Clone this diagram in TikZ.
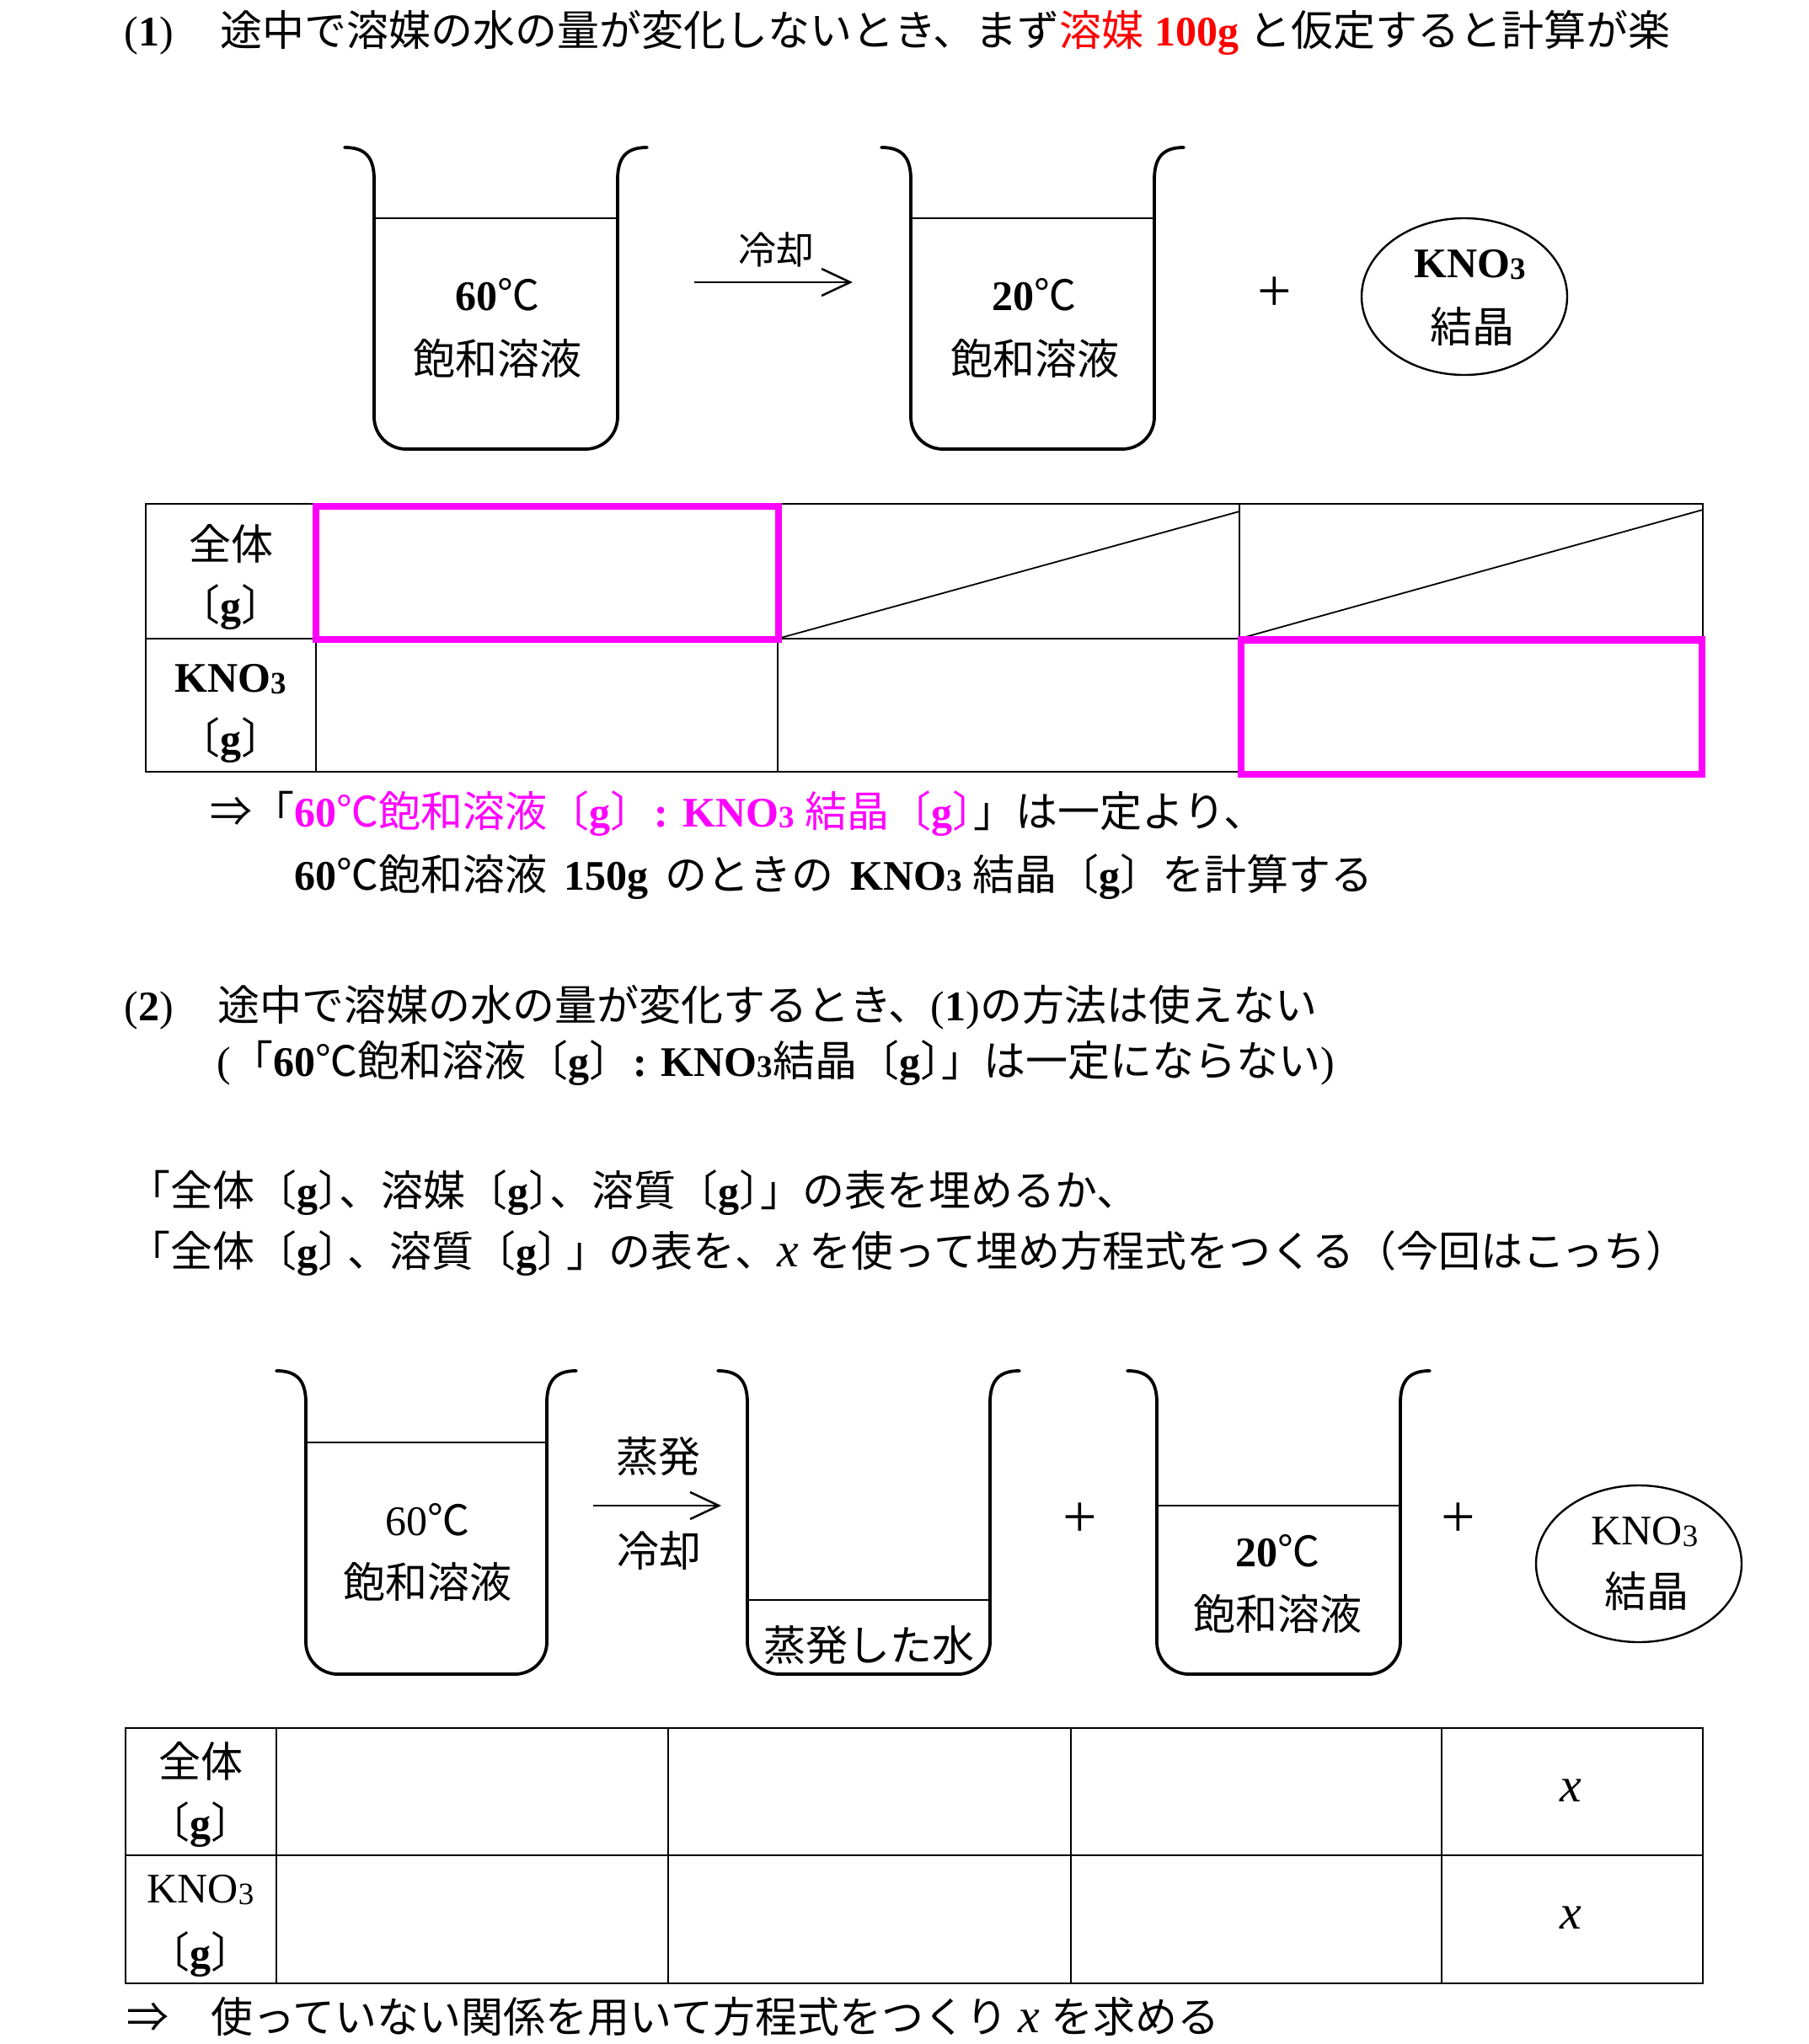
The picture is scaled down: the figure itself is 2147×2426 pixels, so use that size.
\documentclass[tikz,border=0pt]{standalone}
\usepackage{fontspec}
\setmainfont{Liberation Serif}
\newfontfamily\jpfont{Noto Sans CJK JP}
\usetikzlibrary{arrows.meta,shapes.geometric}
\definecolor{hlmag}{RGB}{255,0,255}
\definecolor{hlred}{RGB}{255,0,0}
% automatic switch to the Japanese font for CJK characters
\XeTeXinterchartokenstate=1
\ifdefined\newXeTeXintercharclass
  \newXeTeXintercharclass\CJKcls
\else
  \chardef\CJKcls=7
\fi
\newcount\cjkcnt
\cjkcnt="20
\loop
  \XeTeXcharclass\cjkcnt=0
  \advance\cjkcnt by 1\relax
\ifnum\cjkcnt<"250 \repeat
\cjkcnt="3000
\loop
  \XeTeXcharclass\cjkcnt=\CJKcls
  \advance\cjkcnt by 1\relax
\ifnum\cjkcnt<"A000 \repeat
\cjkcnt="FF00
\loop
  \XeTeXcharclass\cjkcnt=\CJKcls
  \advance\cjkcnt by 1\relax
\ifnum\cjkcnt<"FFF0 \repeat
\XeTeXcharclass"2103=\CJKcls
\XeTeXcharclass"21D2=\CJKcls
\XeTeXinterchartoks 0 \CJKcls = {\jpfont}
\XeTeXinterchartoks 4095 \CJKcls = {\jpfont}
\XeTeXinterchartoks \CJKcls 0 = {\rmfamily}
\XeTeXinterchartoks \CJKcls 4095 = {\rmfamily}

\newcommand\subthree{\raisebox{-0.8pt}{\fontsize{18.5}{18.5}\selectfont 3}}
\newcommand\xvar{{\fontsize{29}{30}\selectfont\textit{x}}}
\newcommand\drawbeaker[4]{%
  \draw[beakerline] ({#1-35},#3) .. controls ({#1-12},#3) and (#1,{#3+10}) .. (#1,{#3+38})
    -- (#1,{#4-38}) arc[start angle=180,end angle=90,radius=38]
    -- ({#2-38},#4) arc[start angle=90,end angle=0,radius=38]
    -- (#2,{#3+38}) .. controls (#2,{#3+10}) and ({#2+12},#3) .. ({#2+35},#3);}

\tikzset{
  every node/.style={font=\fontsize{25}{30}\selectfont},
  txt/.style={inner sep=0pt, anchor=base west},
  lab/.style={inner sep=0pt, anchor=center},
  small/.style={font=\fontsize{22.5}{27}\selectfont},
  plus/.style={inner sep=0pt, anchor=center, font=\fontsize{36}{36}\selectfont},
  beakerline/.style={line width=1.9pt, line cap=round, line join=round},
  liquid/.style={line width=1.2pt},
  tbl/.style={line width=0.9pt},
  tblb/.style={line width=1.1pt},
  hl/.style={draw=hlmag, line width=4.2pt},
  flowarrow/.style={line width=1.25pt, -{Straight Barb[length=17pt,width=16pt]}},
  crystal/.style={draw, ellipse, line width=1.2pt, minimum width=122pt, minimum height=93pt, inner sep=0pt},
}

\begin{document}
\begin{tikzpicture}[x=0.5pt,y=-0.5pt]
\path[use as bounding box] (0,0) rectangle (2147,2426);

% ---------------- Part (1) ----------------
\node[txt] (h1num) at (147,54) {(\textbf{1})};
\node[txt] (h1) at (261,54) {途中で溶媒の水の量が変化しないとき、まず{\color{hlred}溶媒 \textbf{100g}} と仮定すると計算が楽};

\drawbeaker{444}{733}{175}{533}
\draw[liquid] (444,259) -- (733,259);
\node[lab] (b1t) at (590,350) {\textbf{60}℃};
\node[lab] (b1s) at (590,425) {飽和溶液};

\coordinate (a1s) at (824,335);
\coordinate (a1e) at (1012,335);
\draw[flowarrow] (a1s) -- (a1e);
\node[lab, small] (a1l) at (921,296) {冷却};

\drawbeaker{1081}{1370}{175}{533}
\draw[liquid] (1081,259) -- (1370,259);
\node[lab] (b2t) at (1227,350) {\textbf{20}℃};
\node[lab] (b2s) at (1228,425) {飽和溶液};

\node[plus] (p1) at (1513,349) {+};
\node[crystal] (e1) at (1738,352) {};
\node[lab] (e1a) at (1745,314) {\textbf{KNO\subthree}};
\node[lab] (e1b) at (1747,388) {結晶};

% table 1
\draw[tbl] (173,598) rectangle (2021,916);
\draw[tbl] (173,758) -- (2021,758);
\foreach \cx in {375,923,1471} \draw[tbl] (\cx,598) -- (\cx,916);
\draw[tbl] (923,758) -- (1471,607);
\draw[tbl] (1471,758) -- (2021,605);
\draw[hl] (375,601) rectangle (924,759);
\draw[hl] (1473,759.5) rectangle (2020,919);
\node[lab] (t1a) at (274,645) {全体};
\node[lab] (t1b) at (274,721) {〔\textbf{g}〕};
\node[lab] (t1c) at (274,806) {\textbf{KNO\subthree}};
\node[lab] (t1d) at (274,879) {〔\textbf{g}〕};

\node[txt] (r1) at (249,981) {⇒「{\color{hlmag}\textbf{60}℃飽和溶液〔\textbf{g}〕\hspace{-0.2em} \textbf{:} \textbf{KNO\subthree} 結晶〔\textbf{g}〕}\hspace{-0.5em}」は一定より、};
\node[txt] (r2) at (349,1056) {\textbf{60}℃飽和溶液\hspace{0.4em}\textbf{150g}\hspace{0.4em}のときの\hspace{0.4em}\textbf{KNO\subthree} 結晶〔\textbf{g}〕を計算する};

% ---------------- Part (2) ----------------
\node[txt] (h2num) at (147,1211) {(\textbf{2})};
\node[txt] (h2) at (258,1211) {途中で溶媒の水の量が変化するとき、(\textbf{1})の方法は使えない};
\node[txt] (h2b) at (257,1277) {(「\textbf{60}℃飽和溶液〔\textbf{g}〕\hspace{-0.2em} \textbf{:} \textbf{KNO\subthree}結晶〔\textbf{g}〕\hspace{-0.5em}」は一定にならない)};

\node[txt] (m1) at (152,1431) {「全体〔\textbf{g}〕\hspace{-0.5em}、溶媒〔\textbf{g}〕\hspace{-0.5em}、溶質〔\textbf{g}〕\hspace{-0.5em}」の表を埋めるか、};
\node[txt] (m2) at (152,1503) {「全体〔\textbf{g}〕\hspace{-0.3em}、溶質〔\textbf{g}〕\hspace{-0.3em}」の表を、\xvar{} を使って埋め方程式をつくる（今回はこっち）};

% diagram 2
\drawbeaker{363}{649}{1627}{1987}
\draw[liquid] (363,1712) -- (649,1712);
\node[lab] (c1t) at (507,1804) {60℃};
\node[lab] (c1s) at (507,1877) {飽和溶液};

\coordinate (a2s) at (704,1787);
\coordinate (a2e) at (856,1787);
\draw[flowarrow] (a2s) -- (a2e);
\node[lab] (a2u) at (781,1729) {蒸発};
\node[lab] (a2d) at (782,1840) {冷却};

\drawbeaker{887}{1175}{1627}{1987}
\draw[liquid] (887,1899) -- (1175,1899);
\node[lab] (c2s) at (1031,1953) {蒸発した水};

\node[plus] (p2) at (1282,1804) {+};

\drawbeaker{1373}{1662}{1627}{1987}
\draw[liquid] (1373,1787) -- (1662,1787);
\node[lab] (c3t) at (1516,1841) {\textbf{20}℃};
\node[lab] (c3s) at (1516,1915) {飽和溶液};

\node[plus] (p3) at (1731,1804) {+};
\node[crystal] (e2) at (1945,1856) {};
\node[lab] (e2a) at (1952,1818) {KNO\subthree};
\node[lab] (e2b) at (1954,1889) {結晶};

% table 2
\draw[tblb] (149,2051) rectangle (2021,2354);
\draw[tblb] (149,2202) -- (2021,2202);
\foreach \cx in {328,793,1271,1711} \draw[tblb] (\cx,2051) -- (\cx,2354);
\node[lab] (t2a) at (238,2090) {全体};
\node[lab] (t2b) at (238,2166) {〔\textbf{g}〕};
\node[lab] (t2c) at (238,2243) {KNO\subthree};
\node[lab] (t2d) at (238,2320) {〔\textbf{g}〕};
\node[lab] (x1) at (1864,2125) {\xvar};
\node[lab] (x2) at (1864,2276) {\xvar};

\node[txt] (fin) at (150,2412) {⇒　使っていない関係を用いて方程式をつくり \xvar{} を求める};
\end{tikzpicture}
\end{document}
